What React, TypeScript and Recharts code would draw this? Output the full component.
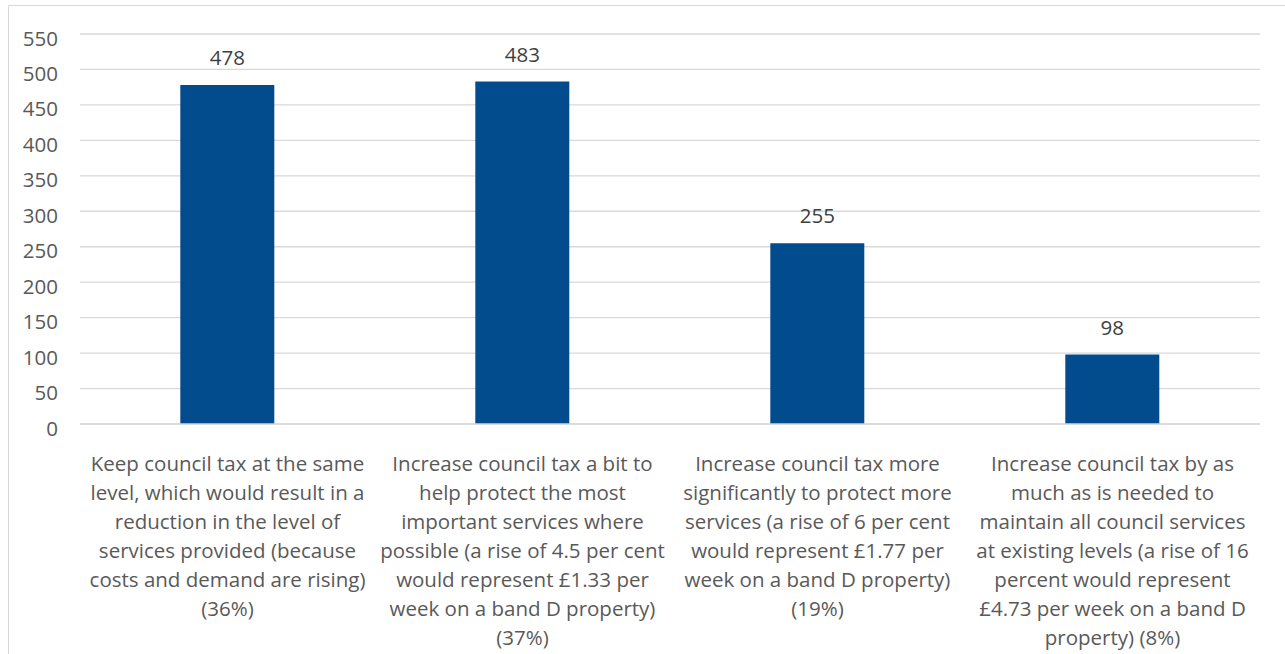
import { BarChart, Bar, XAxis, YAxis, CartesianGrid, LabelList } from "recharts";

const BAR = "#024C8E";
const GRID = "#D9D9D9";
const TEXT = "#595959";
const FONT = "'Open Sans', sans-serif";

const categories = ["keep", "bit", "more", "needed"];
const responses = [478, 483, 255, 98];
const yTicks = [0, 50, 100, 150, 200, 250, 300, 350, 400, 450, 500, 550];

const labelLines = [
  [
    "Keep council tax at the same",
    "level, which would result in a",
    "reduction in the level of",
    "services provided (because",
    "costs and demand are rising)",
    "(36%)",
  ],
  [
    "Increase council tax a bit to",
    "help protect the most",
    "important services where",
    "possible (a rise of 4.5 per cent",
    "would represent £1.33 per",
    "week on a band D property)",
    "(37%)",
  ],
  [
    "Increase council tax more",
    "significantly to protect more",
    "services (a rise of 6 per cent",
    "would represent £1.77 per",
    "week on a band D property)",
    "(19%)",
  ],
  [
    "Increase council tax by as",
    "much as is needed to",
    "maintain all council services",
    "at existing levels (a rise of 16",
    "percent would represent",
    "£4.73 per week on a band D",
    "property) (8%)",
  ],
];

const data = categories.map((c, i) => ({ cat: c, value: responses[i] }));

function CategoryTick(props: any) {
  const { x, y, index } = props;
  const lines = labelLines[index] || [];
  return (
    <text x={x} y={y} textAnchor="middle" fill={TEXT} fontSize={20.5} fontFamily={FONT}>
      {lines.map((l, i) => (
        <tspan key={i} x={x} y={y + 39 + i * 29}>
          {l}
        </tspan>
      ))}
    </text>
  );
}

function ValueTick(props: any) {
  const { y, payload } = props;
  return (
    <text x={58} y={y + 11.5} textAnchor="end" fill={TEXT} fontSize={20.5} fontFamily={FONT}>
      {payload.value}
    </text>
  );
}

export default function App() {
  return (
    <div
      style={{
        position: "absolute",
        left: 0,
        top: 0,
        width: 1285,
        height: 654,
        overflow: "hidden",
        background: "#fff",
      }}
    >
      <div
        style={{
          position: "absolute",
          left: 8,
          top: 5,
          width: 1300,
          height: 700,
          border: `1px solid ${GRID}`,
          boxSizing: "border-box",
        }}
      />
      <div style={{ position: "absolute", left: 0, top: 0 }}>
        <BarChart
          width={1285}
          height={654}
          data={data}
          margin={{ top: 34, right: 25, bottom: 0, left: 0 }}
          barCategoryGap="34%"
        >
          <CartesianGrid stroke={GRID} strokeWidth={1.3} vertical={false} />
          <XAxis
            dataKey="cat"
            height={230}
            axisLine={{ stroke: GRID, strokeWidth: 1.3 }}
            tickLine={false}
            tick={<CategoryTick />}
            interval={0}
          />
          <YAxis
            width={80}
            domain={[0, 550]}
            ticks={yTicks}
            axisLine={false}
            tickLine={false}
            tick={<ValueTick />}
          />
          <Bar dataKey="value" fill={BAR} isAnimationActive={false}>
            <LabelList
              dataKey="value"
              position="top"
              offset={20}
              fill="#404040"
              fontSize={20.5}
              fontFamily={FONT}
            />
          </Bar>
        </BarChart>
      </div>
    </div>
  );
}
